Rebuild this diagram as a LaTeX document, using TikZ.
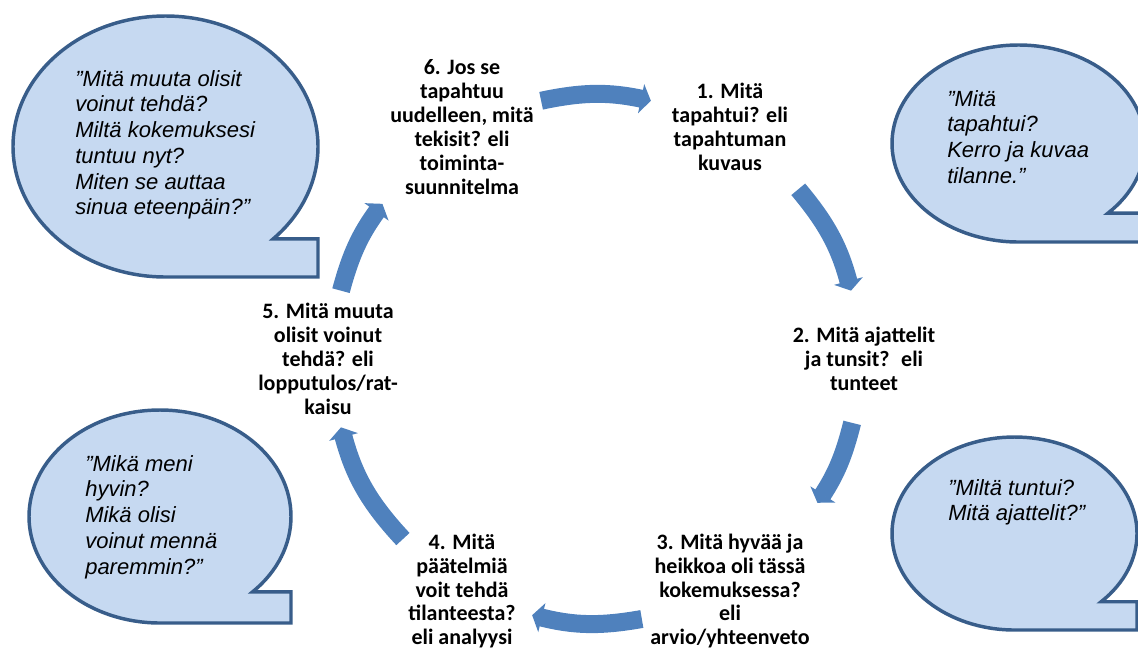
\documentclass[tikz,border=0pt]{standalone}
\usepackage{fontspec}
\usepackage{tikz}
\usetikzlibrary{arrows.meta,calc}
\newfontfamily\reflStepFont{Carlito}
\newfontfamily\reflQuoteFont{Liberation Sans}
\definecolor{ReflArrow}{HTML}{4F81BD}
\definecolor{ReflBubble}{HTML}{C6D9F1}
\definecolor{ReflEdge}{HTML}{385D8A}
% speech bubble: centre x, centre y, x radius, y radius
\newcommand{\reflBubble}[4]{%
  \filldraw[fill=ReflBubble,draw=ReflEdge,line width=2.6pt,miter limit=4]
    ({#1+0.7071*#3},{#2+0.7071*#4})
    arc[start angle=45,end angle=-270,x radius=#3,y radius=#4]
    -- ({#1+#3},{#2+#4}) -- ({#1+#3},{#2+0.7071*#4}) -- cycle;}

\begin{document}
\begin{tikzpicture}[x=0.75pt,y=-0.75pt,
    steptext/.style={align=center,inner sep=0pt,
      font=\reflStepFont\bfseries\fontsize{16.5}{17.9}\selectfont},
    quotetext/.style={align=left,inner sep=0pt,anchor=north west,
      font=\reflQuoteFont\itshape\fontsize{16.5}{19.3}\selectfont},
    cyclearrow/.style={draw=ReflArrow,line width=13.5pt,
      -{Triangle[width=22pt,length=7.5pt]}}]
        \useasboundingbox (0,0) rectangle (1138,647);
        \clip (0,0) rectangle (1138,647);

        % bubbles
        \reflBubble{165.5}{146.5}{152.5}{130.5}
        \reflBubble{1018.5}{143.5}{126.5}{98.5}
        \reflBubble{160}{516.5}{131}{106.5}
        \reflBubble{1014.5}{533.5}{122.5}{96.5}

        \node[quotetext] (q5) at (75,70)
          {”Mitä muuta olisit\\voinut tehdä?\\Miltä kokemuksesi\\tuntuu nyt?\\Miten se auttaa\\sinua eteenpäin?”};
        \node[quotetext] (q1) at (947,90)
          {”Mitä\\tapahtui?\\Kerro ja kuvaa\\tilanne.”};
        \node[quotetext] (q4) at (85,455)
          {”Mikä meni\\hyvin?\\Mikä olisi\\voinut mennä\\paremmin?”};
        \node[quotetext] (q2) at (948,479)
          {”Miltä tuntui?\\Mitä ajattelit?”};

        % cycle steps
        \coordinate (hub) at (596,359);
        \node[steptext] (step1) at ($(hub)+(-60:268)$)
          {1. Mitä\\tapahtui? eli\\tapahtuman\\kuvaus};
        \node[steptext] (step2) at ($(hub)+(0:268)$)
          {2. Mitä ajattelit\\ja tunsit?~ eli\\tunteet};
        \node[steptext] (step3) at ($(hub)+(60:268)$)
          {3. Mitä hyvää ja\\heikkoa oli tässä\\kokemuksessa?\\eli\\arvio/yhteenveto};
        \node[steptext] (step4) at ($(hub)+(120:268)$)
          {4. Mitä\\päätelmiä\\voit tehdä\\tilanteesta?\\eli analyysi};
        \node[steptext] (step5) at ($(hub)+(180:268)$)
          {5. Mitä muuta\\olisit voinut\\tehdä? eli\\lopputulos/rat-\\kaisu};
        \node[steptext] (step6) at ($(hub)+(240:268)$)
          {6. Jos se\\tapahtuu\\uudelleen, mitä\\tekisit? eli\\toiminta-\\suunnitelma};

        \foreach \nimi/\alku/\loppu in {a61/-102/-78,a12/-40/-15,a23/14/33,
          a34/80/104,a45/137/165,a56/195/216}{
          \coordinate (\nimi s) at ($(hub)+(\alku:264)$);
          \coordinate (\nimi e) at ($(hub)+(\loppu:264)$);
        }
        \foreach \nimi/\kaari in {a61/12,a12/12.5,a23/9.5,a34/12,a45/14,a56/10.5}{
          \draw[cyclearrow] (\nimi s) to[bend left=\kaari] (\nimi e);
        }
      \end{tikzpicture}
\end{document}
